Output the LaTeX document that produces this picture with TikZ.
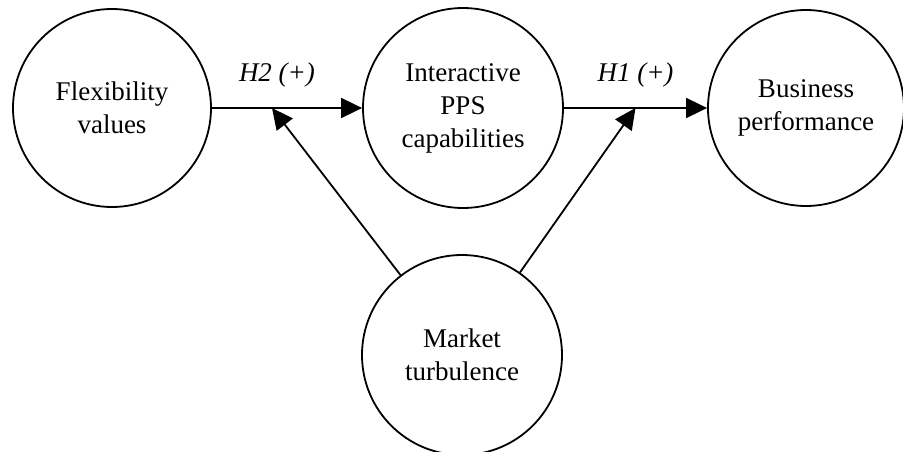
\documentclass[tikz,border=0pt]{standalone}
\usepackage{fontspec}
\setmainfont{Liberation Serif}
\usetikzlibrary{arrows.meta,calc}
\begin{document}
\begin{tikzpicture}[x=1pt,y=-1pt,
  construct/.style={draw,circle,line width=1.8pt,inner sep=0pt,
    minimum size=#1,align=center,
    font=\fontsize{27}{33}\selectfont},
  construct/.default=198pt,
  link/.style={line width=1.8pt,-{Triangle[length=21pt,width=20pt]}},
  hyp/.style={font=\fontsize{27}{33}\selectfont\itshape,inner sep=0pt}]
\useasboundingbox (0,0) rectangle (903,452);
\node[construct] (flex) at (112,108) {Flexibility\\values};
\node[construct=200pt] (pps) at (463,108) {Interactive\\PPS\\capabilities};
\node[construct=196pt] (perf) at (806,108) {Business\\performance};
\node[construct=200pt] (turb) at (462,355) {Market\\turbulence};
% main paths
\draw[link] (flex) -- (pps);
\draw[link] (pps) -- (perf);
% moderation points on the main paths
\coordinate (m2) at ($(flex.east)!0.4!(pps.west)$);
\coordinate (m1) at ($(pps.east)!0.5!(perf.west)$);
\draw[link] (turb) -- (m2);
\draw[link] (turb) -- (m1);
% hypothesis labels
\node[hyp] (h2) at ($(m2)+(5,-33)$) {H2 (+)};
\node[hyp] (h1) at ($(m1)+(0,-33)$) {H1 (+)};
\end{tikzpicture}
\end{document}
